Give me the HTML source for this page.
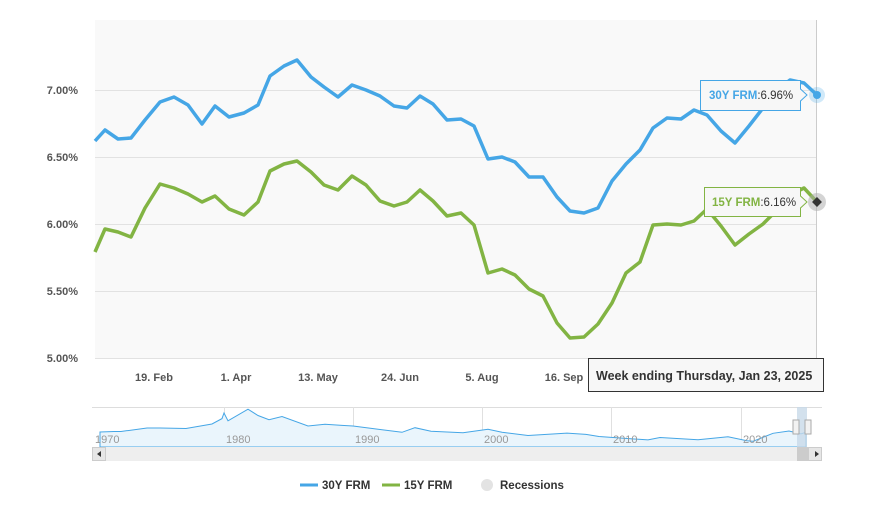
<!DOCTYPE html>
<html><head><style>
body{margin:0;background:#fff;font-family:"Liberation Sans",sans-serif}
</style></head><body>
<svg width="885" height="511" viewBox="0 0 885 511" xmlns="http://www.w3.org/2000/svg" font-family="Liberation Sans, sans-serif">
<rect x="95" y="20" width="722" height="338" fill="#f9f9f9"/>
<g stroke="#e2e2e2" stroke-width="1">
<line x1="95" y1="90.5" x2="817" y2="90.5"/><line x1="95" y1="157.5" x2="817" y2="157.5"/>
<line x1="95" y1="224.5" x2="817" y2="224.5"/><line x1="95" y1="291.5" x2="817" y2="291.5"/>
<line x1="95" y1="358.5" x2="817" y2="358.5"/>
</g>
<line x1="816.5" y1="20" x2="816.5" y2="358" stroke="#ccc"/>
<g font-size="11" font-weight="bold" fill="#555" text-anchor="end">
<text x="78" y="94">7.00%</text><text x="78" y="161">6.50%</text><text x="78" y="228">6.00%</text><text x="78" y="295">5.50%</text><text x="78" y="362">5.00%</text>
</g>
<g font-size="11" font-weight="bold" fill="#555" text-anchor="middle">
<text x="154" y="381">19. Feb</text><text x="236" y="381">1. Apr</text><text x="318" y="381">13. May</text><text x="400" y="381">24. Jun</text><text x="482" y="381">5. Aug</text><text x="564" y="381">16. Sep</text>
</g>
<polyline fill="none" stroke="#45a6e6" stroke-width="3.5" stroke-linejoin="round" points="95,141 105,130 118,139 131,138 145,120 160,102 174,97 188,105 202,124 215,106 229,117 244,113 258,105 270,76 284,66 297,60 311,77 324,87 338,97 352,85 366,90 380,96 394,106 407,108 420,96 433,104 447,120 461,119 474,126 488,159 502,157 515,162 529,177 543,177 557,197 570,211 584,213 598,208 612,181 626,164 640,150 653,128 667,118 681,119 694,110 707,115 721,131 735,143 749,126 763,108 777,90 790,80 804,83 817,95"/>
<polyline fill="none" stroke="#82b443" stroke-width="3.5" stroke-linejoin="round" points="95,252 105,229 118,232 131,237 145,208 160,184 174,188 188,194 202,202 215,196 229,209 244,215 258,202 270,171 284,164 297,161 311,172 324,185 338,190 352,176 366,185 380,201 394,206 407,202 420,190 433,201 447,216 461,213 474,225 488,273 502,269 515,275 529,289 543,296 557,323 570,338 584,337 598,324 612,303 626,273 640,262 653,225 667,224 681,225 694,221 707,209 721,226 735,245 749,234 763,224 777,210 790,195 804,188 817,202"/>
<circle cx="817" cy="95" r="8" fill="#45a6e6" opacity="0.25"/><circle cx="817" cy="95" r="4" fill="#45a6e6"/>
<circle cx="817" cy="202" r="9" fill="#aaa" opacity="0.5"/><rect x="813.5" y="198.5" width="7" height="7" fill="#333" transform="rotate(45 817 202)"/>
<path d="M700.5,80.5 H800.5 V89 L807,95 L800.5,101 V110.5 H700.5 Z" fill="#f7f7f7" stroke="#45a6e6"/>
<text x="709" y="99" font-size="11.5"><tspan fill="#45a6e6" font-weight="bold">30Y FRM</tspan><tspan fill="#333">:6.96%</tspan></text>
<path d="M704.5,187.5 H800.5 V196 L807,202 L800.5,208 V216.5 H704.5 Z" fill="#f7f7f7" stroke="#82b443"/>
<text x="712" y="206" font-size="11.5"><tspan fill="#82b443" font-weight="bold">15Y FRM</tspan><tspan fill="#333">:6.16%</tspan></text>
<rect x="588.5" y="358.5" width="235" height="33" fill="#f7f7f7" stroke="#333"/>
<text x="596" y="380" font-size="12.5" font-weight="bold" fill="#333">Week ending Thursday, Jan 23, 2025</text>
<!-- navigator -->
<line x1="92" y1="407.5" x2="822" y2="407.5" stroke="#ddd"/>
<g stroke="#e0e0e0"><line x1="224.5" y1="407" x2="224.5" y2="447"/><line x1="353.5" y1="407" x2="353.5" y2="447"/><line x1="482.5" y1="407" x2="482.5" y2="447"/><line x1="611.5" y1="407" x2="611.5" y2="447"/><line x1="741.5" y1="407" x2="741.5" y2="447"/></g>
<path d="M100,432 L114,431.5 L121,431.5 L147,428 L160,428 L186,428.5 L212,424 L222,418.6 L224,413 L228,420.8 L248,409.2 L258,415.5 L269,419.7 L282,416.5 L308,426 L325,424.3 L342,425.4 L353,426 L402,432.3 L415,427.7 L431,431.3 L463,432.7 L488,429.2 L502,432.3 L528,435.5 L567,433.1 L586,434.4 L599,436.5 L648,439.9 L660,437.5 L698,439.7 L728,436.7 L747,440.7 L753,441.3 L773,433.3 L789,431 L801,433.8 L806,432.3 L806,447 L100,447 Z" fill="#eaf5fc" stroke="#45a6e6" stroke-width="1"/>
<g font-size="11" fill="#999"><text x="95" y="443">1970</text><text x="226" y="443">1980</text><text x="355" y="443">1990</text><text x="484" y="443">2000</text><text x="613" y="443">2010</text><text x="743" y="443">2020</text></g>
<rect x="797" y="407" width="10" height="40" fill="#c8d9e8" opacity="0.8"/>
<rect x="793" y="420" width="6" height="14" fill="#f2f2f2" stroke="#aaa"/><rect x="805" y="420" width="6" height="14" fill="#f2f2f2" stroke="#aaa"/>
<rect x="92" y="447" width="730" height="14" fill="#eee"/>
<rect x="92.5" y="447.5" width="13" height="13" fill="#e6e6e6" stroke="#ccc"/><rect x="808.5" y="447.5" width="13" height="13" fill="#e6e6e6" stroke="#ccc"/>
<rect x="797" y="447" width="11" height="14" fill="#ccc"/>
<path d="M101,451 L97,454 L101,457Z M815,451 L819,454 L815,457Z" fill="#333"/>
<!-- legend -->
<line x1="300" y1="485" x2="318" y2="485" stroke="#45a6e6" stroke-width="3"/>
<text x="322" y="489" font-size="11.5" font-weight="bold" fill="#333">30Y FRM</text>
<line x1="382" y1="485" x2="400" y2="485" stroke="#82b443" stroke-width="3"/>
<text x="404" y="489" font-size="11.5" font-weight="bold" fill="#333">15Y FRM</text>
<circle cx="487" cy="485" r="6" fill="#e3e3e3"/>
<text x="500" y="489" font-size="11.5" font-weight="bold" fill="#333">Recessions</text>
</svg>
</body></html>
